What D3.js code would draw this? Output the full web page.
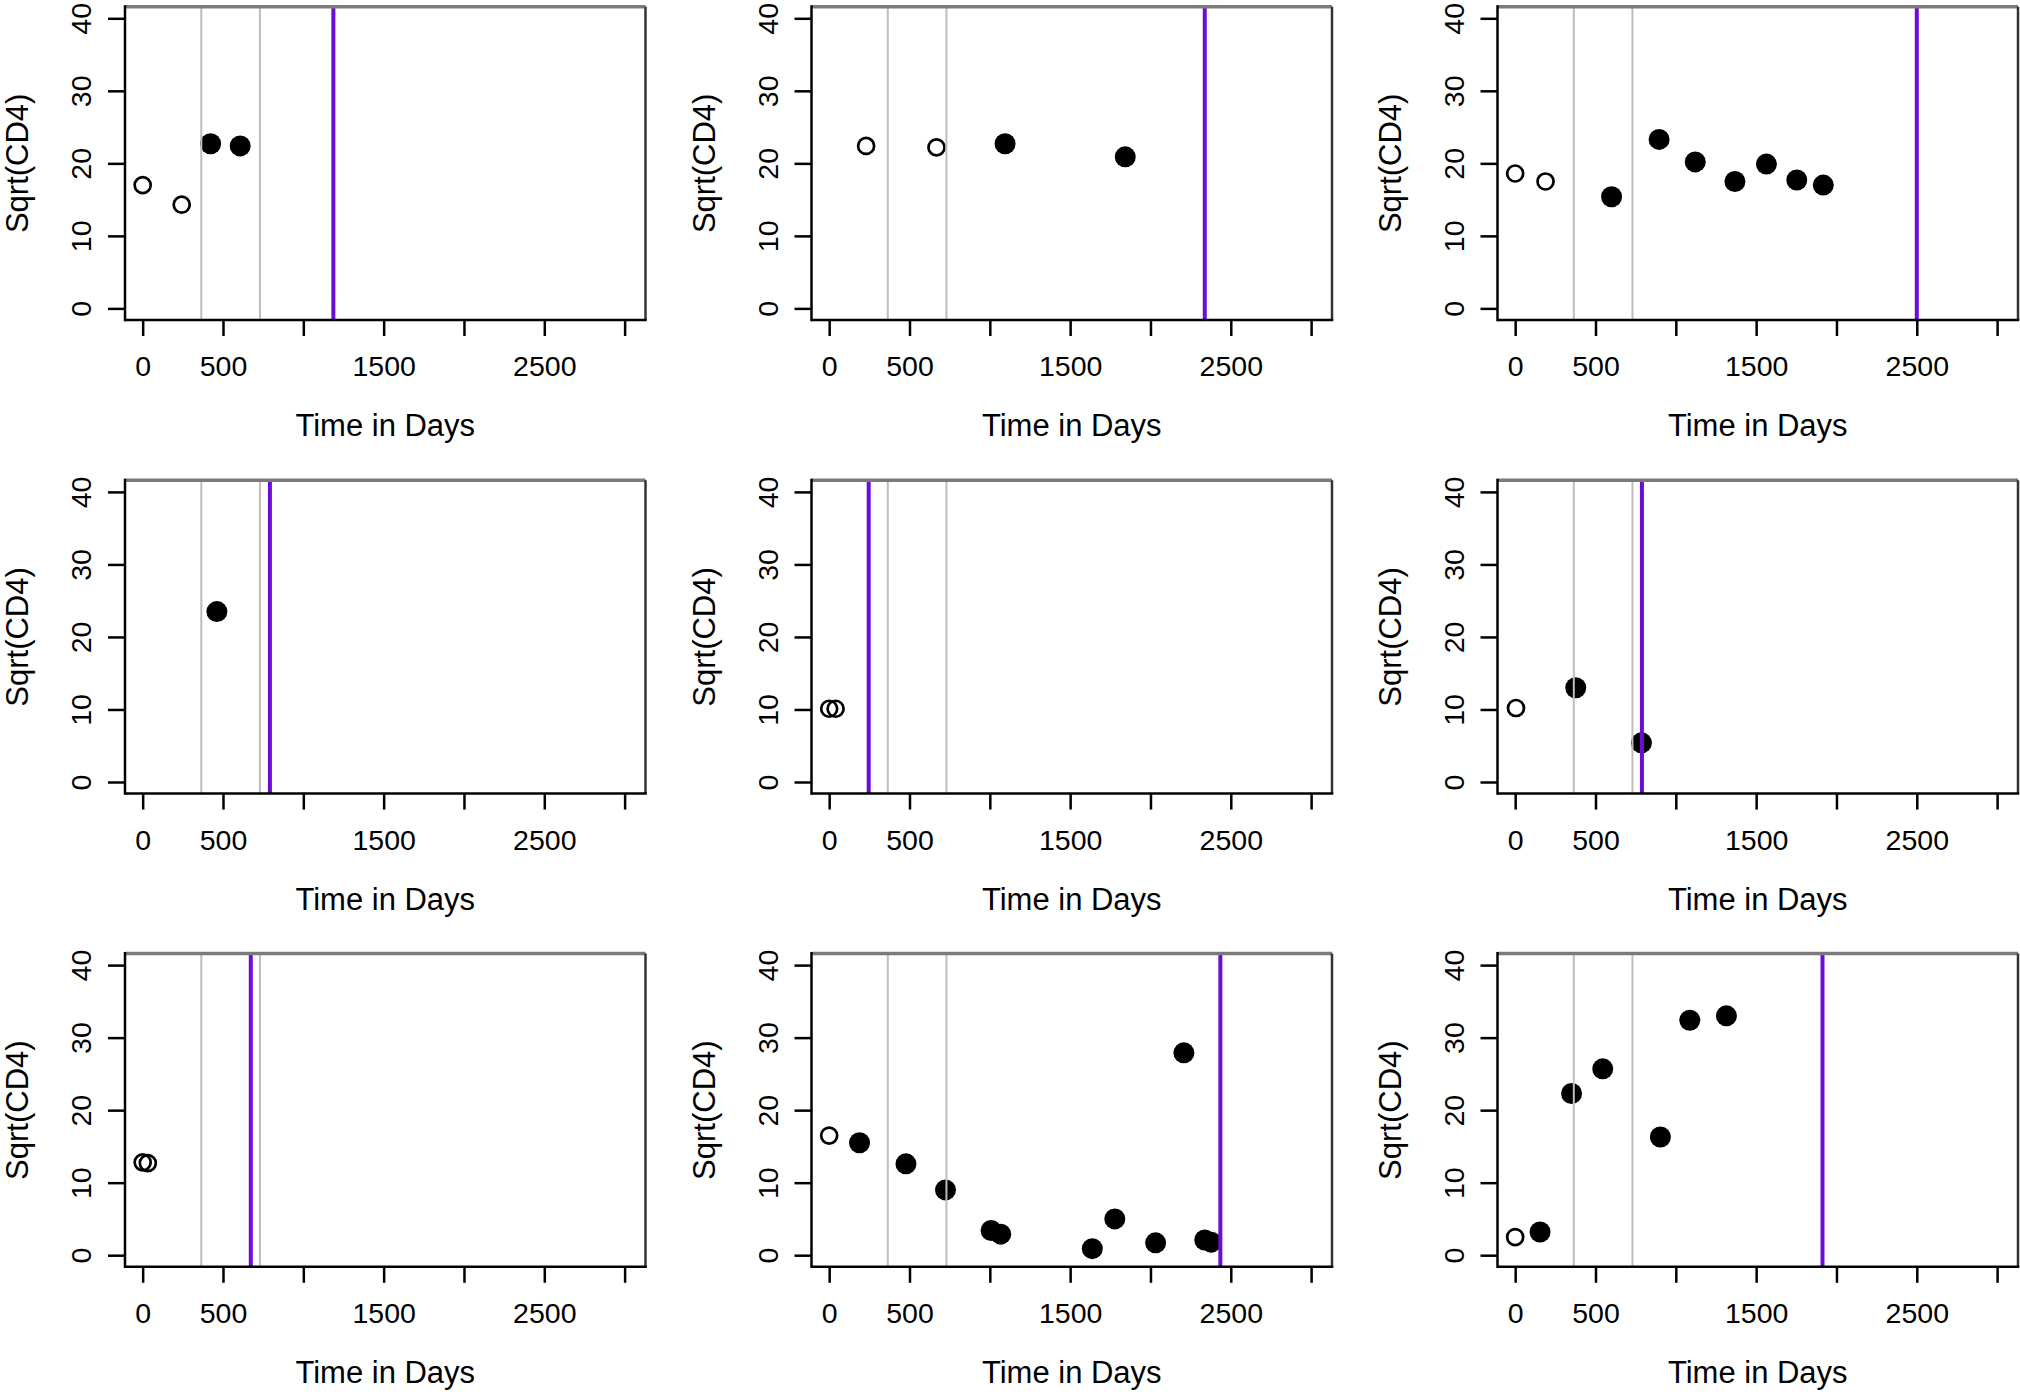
<!DOCTYPE html>
<html>
<head>
<meta charset="utf-8">
<script src="https://cdn.jsdelivr.net/npm/d3@7"></script>
<style>
  html, body { margin: 0; padding: 0; background: #ffffff; }
  svg { display: block; }
  text { font-family: "Liberation Sans", Arial, Helvetica, sans-serif; fill: #000; }
</style>
</head>
<body>
<svg id="chart" width="2020" height="1396"></svg>
<script>
// ---------------- DATA ----------------
const xTickValues = [0, 500, 1000, 1500, 2000, 2500, 3000];
const xTickLabels = ["0", "500", "", "1500", "", "2500", ""];
const yTickValues = [0, 10, 20, 30, 40];
const yTickLabels = ["0", "10", "20", "30", "40"];
const xTitle = "Time in Days";
const yTitle = "Sqrt(CD4)";
const refLineDays = [365, 730];

// open circles (baseline period) per panel
const openDays = [
  [0, 243],
  [230, 668],
  [0, 189],
  [],
  [0, 40],
  [5],
  [0, 32],
  [0],
  [0]
];
const openVals = [
  [17.0, 14.3],
  [22.4, 22.2],
  [18.6, 17.5],
  [],
  [10.1, 10.1],
  [10.2],
  [12.8, 12.7],
  [16.5],
  [2.5]
];
// filled circles (follow-up) per panel
const filledDays = [
  [423, 607],
  [1095, 1843],
  [600, 896, 1121, 1368, 1564, 1753, 1918],
  [462],
  [],
  [377, 786],
  [],
  [189, 478, 724, 1008, 1068, 1638, 1778, 2032, 2208, 2338, 2378],
  [155, 351, 545, 904, 1087, 1315]
];
const filledVals = [
  [22.7, 22.4],
  [22.7, 20.9],
  [15.4, 23.3, 20.2, 17.5, 19.9, 17.7, 17.0],
  [23.5],
  [],
  [13.0, 5.4],
  [],
  [15.5, 12.6, 9.0, 3.4, 2.9, 0.9, 5.0, 1.7, 27.9, 2.1, 1.8],
  [3.2, 22.3, 25.7, 16.3, 32.4, 33.0]
];
// event day (purple line) per panel
const eventDays = [1187, 2338, 2500, 792, 246, 789, 673, 2435, 1913];

// ---------------- LAYOUT ----------------
const colLeft = [125, 811.5, 1497.5];
const rowTop = [6.7, 480.3, 953.5];
const boxW = 520.5, boxH = 313.3;
const xDomain = [-110, 3130];
const yDomain = [-1.6, 41.6];
const FONT = '"Liberation Sans", Arial, Helvetica, sans-serif';

const svg = d3.select("#chart");

for (let p = 0; p < 9; p++) {
  const r = Math.floor(p / 3), c = p % 3;
  const g = svg.append("g").attr("transform", `translate(${colLeft[c]},${rowTop[r]})`);

  const x = d3.scaleLinear().domain(xDomain).range([0, boxW]);
  const y = d3.scaleLinear().domain(yDomain).range([boxH, 0]);

  // points
  const filled = filledDays[p].map((d, i) => ({d, v: filledVals[p][i]}));
  const open = openDays[p].map((d, i) => ({d, v: openVals[p][i]}));

  g.selectAll("circle.filled").data(filled).join("circle")
    .attr("class", "filled")
    .attr("cx", d => x(d.d)).attr("cy", d => y(d.v)).attr("r", 10.5)
    .attr("fill", "#000");

  g.selectAll("circle.open").data(open).join("circle")
    .attr("class", "open")
    .attr("cx", d => x(d.d)).attr("cy", d => y(d.v)).attr("r", 8)
    .attr("fill", "none").attr("stroke", "#000").attr("stroke-width", 2.7);

  // reference lines (drawn on top of points)
  g.selectAll("line.ref").data(refLineDays).join("line")
    .attr("class", "ref")
    .attr("x1", d => x(d)).attr("x2", d => x(d))
    .attr("y1", 0).attr("y2", boxH)
    .attr("stroke", "#bdbdbd").attr("stroke-width", 2);

  g.append("line")
    .attr("x1", x(eventDays[p])).attr("x2", x(eventDays[p]))
    .attr("y1", 0).attr("y2", boxH)
    .attr("stroke", "#6a0dd8").attr("stroke-width", 4);

  // axes
  const xAxis = d3.axisBottom(x).tickValues(xTickValues).tickSize(16)
    .tickFormat((d, i) => xTickLabels[i]);
  const gx = g.append("g").attr("transform", `translate(0,${boxH})`).call(xAxis);
  gx.select(".domain").remove();
  gx.selectAll(".tick line").attr("stroke", "#000").attr("stroke-width", 2.5);
  gx.selectAll(".tick text").attr("y", 56).attr("dy", null)
    .style("font-size", "28.5px").style("font-family", FONT).attr("fill", "#000");

  const yAxis = d3.axisLeft(y).tickValues(yTickValues).tickSize(17)
    .tickFormat((d, i) => yTickLabels[i]);
  const gy = g.append("g").call(yAxis);
  gy.select(".domain").remove();
  gy.selectAll(".tick line").attr("stroke", "#000").attr("stroke-width", 2.5);
  gy.selectAll(".tick text")
    .attr("x", 0).attr("y", -34).attr("dy", null)
    .attr("transform", "rotate(-90)")
    .attr("text-anchor", "middle")
    .style("font-size", "28.5px").style("font-family", FONT).attr("fill", "#000");

  // box
  g.append("line").attr("x1", 0).attr("x2", boxW).attr("y1", 0).attr("y2", 0)
    .attr("stroke", "#7a7a7a").attr("stroke-width", 3.5);
  g.append("line").attr("x1", boxW).attr("x2", boxW).attr("y1", 0).attr("y2", boxH)
    .attr("stroke", "#333").attr("stroke-width", 2.5);
  g.append("line").attr("x1", 0).attr("x2", 0).attr("y1", -1.5).attr("y2", boxH + 1.25)
    .attr("stroke", "#000").attr("stroke-width", 2.5);
  g.append("line").attr("x1", 0).attr("x2", boxW + 1.25).attr("y1", boxH).attr("y2", boxH)
    .attr("stroke", "#000").attr("stroke-width", 2.5);

  // titles
  g.append("text").attr("x", boxW / 2).attr("y", boxH + 116)
    .attr("text-anchor", "middle").style("font-size", "31px").text(xTitle);
  g.append("text").attr("transform", `translate(-97,${boxH / 2}) rotate(-90)`)
    .attr("text-anchor", "middle").style("font-size", "31px").text(yTitle);
}
</script>
</body>
</html>
